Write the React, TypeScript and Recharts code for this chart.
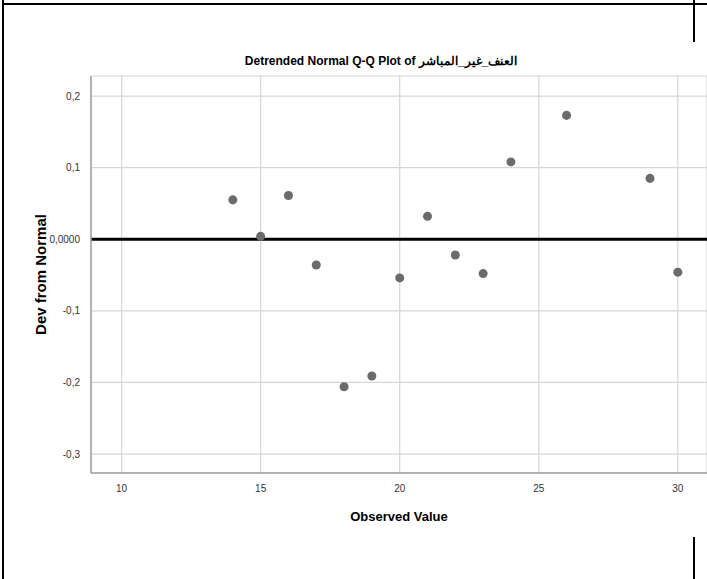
import React from 'react'
import {
  ScatterChart,
  Scatter,
  XAxis,
  YAxis,
  CartesianGrid,
  ReferenceLine,
} from 'recharts'

// observed values and their deviation from the expected normal quantile
const observed = [14, 15, 16, 17, 18, 19, 20, 21, 22, 23, 24, 26, 29, 30]
const devFromNormal = [
  0.055, 0.004, 0.061, -0.036, -0.206, -0.191, -0.054, 0.032, -0.022, -0.048, 0.108, 0.173,
  0.085, -0.046,
]

const xTicks = [10, 15, 20, 25, 30]
const yTicks = [-0.3, -0.2, -0.1, 0, 0.1, 0.2]

const title = 'Detrended Normal Q-Q Plot of العنف_غير_المباشر'
const xTitle = 'Observed Value'
const yTitle = 'Dev from Normal'

const points = observed.map((x, i) => ({ x, y: devFromNormal[i] }))

const W = 707
const H = 579
const tickFont = "'Liberation Sans Narrow', 'Liberation Sans', Arial, sans-serif"
const labelFont = "'Liberation Sans', Arial, sans-serif"

// SPSS style: comma decimals, zero shown with four places
function formatY(v: number) {
  if (Math.abs(v) < 1e-9) return '0,0000'
  return v.toFixed(1).replace('.', ',')
}

function XTitle({ viewBox }: any) {
  const { x, width } = viewBox
  return (
    <text
      x={x + width / 2}
      y={521}
      textAnchor="middle"
      fontFamily={labelFont}
      fontWeight="bold"
      fontSize={13}
      fill="#000"
    >
      {xTitle}
    </text>
  )
}

function YTitle({ viewBox }: any) {
  const { y, height } = viewBox
  const cy = y + height / 2
  const cx = 40
  return (
    <text
      x={cx}
      y={cy}
      transform={`rotate(-90 ${cx} ${cy})`}
      textAnchor="middle"
      dominantBaseline="central"
      fontFamily={labelFont}
      fontWeight="bold"
      fontSize={15}
      fill="#000"
    >
      {yTitle}
    </text>
  )
}

const frame: React.CSSProperties = { position: 'absolute', background: '#000' }

export default function App() {
  return (
    <div style={{ position: 'absolute', left: 0, top: 0, width: W, height: H, background: '#fff' }}>
      {/* page frame left over from the output viewer */}
      <div style={{ ...frame, left: 2, top: 3, width: W - 2, height: 2 }} />
      <div style={{ ...frame, left: 2, top: 0, width: 2, height: H }} />
      <div style={{ ...frame, left: 693, top: 0, width: 2, height: 42 }} />
      <div style={{ ...frame, left: 693, top: 537, width: 2, height: H - 537 }} />

      <div
        style={{
          position: 'absolute',
          left: 0,
          width: 762,
          top: 54,
          textAlign: 'center',
          fontFamily: labelFont,
          fontWeight: 'bold',
          fontSize: 12,
          color: '#000',
          whiteSpace: 'nowrap',
        }}
      >
        {title}
      </div>

      <ScatterChart
        width={W}
        height={H}
        margin={{ top: 76, right: 0, left: 0, bottom: 66 }}
        style={{ position: 'absolute', left: 0, top: 0 }}
      >
        <CartesianGrid stroke="#d6d6d6" strokeWidth={1.2} />
        <XAxis
          type="number"
          dataKey="x"
          domain={[8.9, 31.05]}
          ticks={xTicks}
          allowDataOverflow
          height={40}
          axisLine={{ stroke: '#a0a0a0', strokeWidth: 1.5 }}
          tickLine={false}
          tick={{ fill: '#333', fontSize: 10, fontFamily: tickFont }}
          tickMargin={6}
          label={<XTitle />}
        />
        <YAxis
          type="number"
          dataKey="y"
          domain={[-0.3265, 0.228]}
          ticks={yTicks}
          allowDataOverflow
          width={91}
          axisLine={{ stroke: '#a0a0a0', strokeWidth: 1.5 }}
          tickLine={false}
          tickFormatter={formatY}
          tick={{ fill: '#333', fontSize: 10, fontFamily: tickFont }}
          tickMargin={5}
          label={<YTitle />}
        />
        <ReferenceLine y={0} stroke="#000" strokeWidth={3} />
        <Scatter
          data={points}
          fill="#6b6b6b"
          shape="circle"
          isAnimationActive={false}
          r={4}
        />
      </ScatterChart>
    </div>
  )
}
